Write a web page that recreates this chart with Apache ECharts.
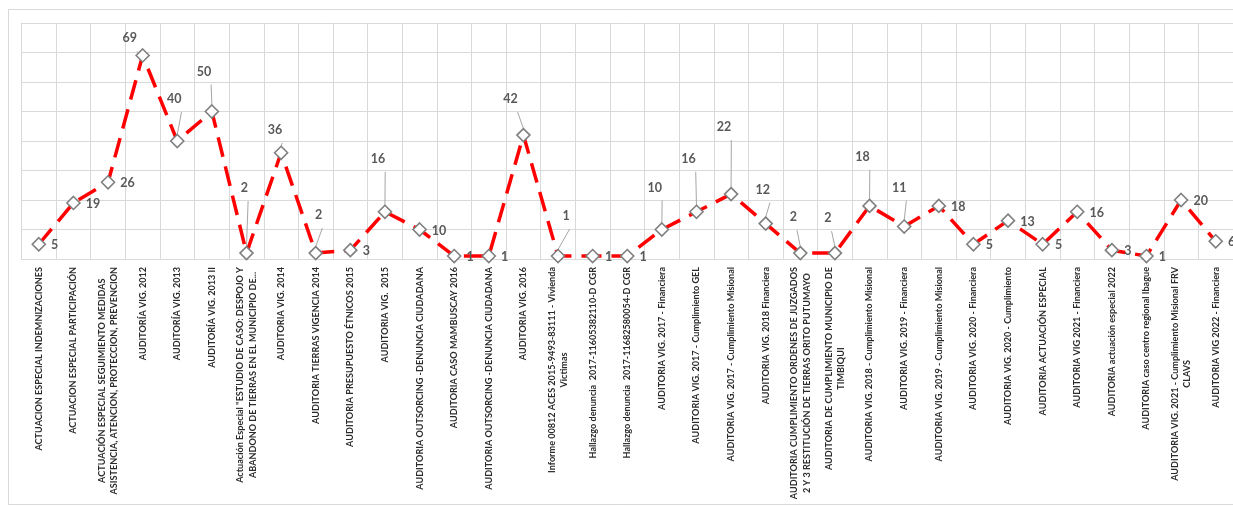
<!DOCTYPE html>
<html>
<head>
<meta charset="utf-8">
<script src="https://cdn.jsdelivr.net/npm/echarts@6/dist/echarts.min.js"></script>
<style>
  html, body { margin: 0; padding: 0; background: #ffffff; }
  #chart { width: 1233px; height: 506px; }
</style>
</head>
<body>
<div id="chart"></div>
<script>
const categories = [
  'ACTUACION ESPECIAL INDEMNIZACIONES',
  'ACTUACION ESPECIAL PARTICIPACIÓN',
  'ACTUACIÓN ESPECIAL SEGUIMIENTO MEDIDAS\nASISTENCIA, ATENCION, PROTECCION, PREVENCION',
  'AUDITORÍA VIG. 2012',
  'AUDITORÍA VIG. 2013',
  'AUDITORÍA VIG. 2013 II',
  'Actuación Especial "ESTUDIO DE CASO: DESPOJO Y\nABANDONO DE TIERRAS EN EL MUNICIPIO DE...',
  'AUDITORIA VIG. 2014',
  'AUDITORIA TIERRAS VIGENCIA 2014',
  'AUDITORIA PRESUPUESTO ÉTNICOS 2015',
  'AUDITORIA VIG.  2015',
  'AUDITORIA OUTSORCING -DENUNCIA CIUDADANA',
  'AUDITORIA CASO MAMBUSCAY 2016',
  'AUDITORIA OUTSORCING -DENUNCIA CIUDADANA',
  'AUDITORIA VIG. 2016',
  'Informe 00812 ACES 2015-9493-83111 - Vivienda\nVictimas',
  'Hallazgo denuncia  2017-11605382110-D CGR',
  'Hallazgo denuncia  2017-11682580054-D CGR',
  'AUDITORIA VIG. 2017 - Financiera',
  'AUDITORIA VIG. 2017 - Cumplimiento GEL',
  'AUDITORIA VIG. 2017 - Cumplimiento Misional',
  'AUDITORIA VIG. 2018 Financiera',
  'AUDITORIA CUMPLIMIENTO ORDENES DE JUZGADOS\n2 Y 3 RESTITUCIÓN DE TIERRAS ORITO PUTUMAYO',
  'AUDITORIA DE CUMPLIMIENTO MUNICIPIO DE\nTIMBIQUI',
  'AUDITORIA VIG. 2018 - Cumplimiento Misional',
  'AUDITORIA VIG. 2019 - Financiera',
  'AUDITORIA VIG. 2019 - Cumplimiento Misional',
  'AUDITORIA VIG. 2020 - Financiera',
  'AUDITORIA VIG. 2020 - Cumplimiento',
  'AUDITORIA ACTUACIÓN ESPECIAL',
  'AUDITORIA VIG 2021 - Financiera',
  'AUDITORIA actuación especial 2022',
  'AUDITORIA caso centro regional Ibague',
  'AUDITORIA VIG. 2021 - Cumplimiento Misional FRV\nCLAVS',
  'AUDITORIA VIG 2022 - Financiera'
];

const values = [5, 19, 26, 69, 40, 50, 2, 36, 2, 3, 16, 10, 1, 1, 42, 1, 1, 1, 10, 16, 22, 12, 2, 2, 18, 11, 18, 5, 13, 5, 16, 3, 1, 20, 6];

const yMin = 0;
const yMax = 80;
const yInterval = 10;

// Callout label offsets (label centre relative to marker); null = label to the right
const calloutOffsets = [
  null, null, null, [-13, -17], [-3, -42], [-8, -40], [-2, -65], [-6, -23], [3, -38], null,
  [-7, -53], null, null, null, [-13, -36], [8, -40], null, null, [-7, -42], [-8, -53],
  [-7, -67], [-3, -34], [-7, -36], [-7, -35], [-7, -49], [-5, -39], null, null, null, null,
  null, null, null, null, null
];

const chart = echarts.init(document.getElementById('chart'));

const dataItems = values.map((v, i) => {
  const off = calloutOffsets[i];
  if (off) {
    return {
      value: v,
      label: { position: 'inside', offset: off },
      labelLine: { show: true }
    };
  }
  return { value: v };
});

chart.setOption({
  animation: false,
  backgroundColor: '#ffffff',
  graphic: [{
    type: 'rect',
    shape: { x: 8.5, y: 9.5, width: 1400, height: 495 },
    style: { fill: 'none', stroke: '#d9d9d9', lineWidth: 1 },
    z: 0
  }],
  grid: { left: 21.5, right: 0, top: 23, bottom: 247, containLabel: false, outerBoundsMode: 'none' },
  xAxis: {
    type: 'category',
    data: categories,
    boundaryGap: true,
    axisLine: { show: true, lineStyle: { color: '#d9d9d9', width: 1 } },
    axisTick: { show: false },
    splitLine: { show: true, lineStyle: { color: '#d9d9d9', width: 1 } },
    axisLabel: {
      interval: 0,
      rotate: 90,
      margin: 8,
      hideOverlap: false,
      formatter: (v) => v.split('\n').map(s => '{c|' + s + '}').join('\n'),
      rich: {
        c: {
          align: 'center',
          fontFamily: 'Lato, "Open Sans", sans-serif',
          fontWeight: 'bold',
          fontSize: 9.1,
          lineHeight: 12.5,
          color: '#2b2b2b'
        }
      }
    }
  },
  yAxis: {
    type: 'value',
    min: yMin,
    max: yMax,
    interval: yInterval,
    axisLabel: { show: false },
    axisLine: { show: true, lineStyle: { color: '#d9d9d9' } },
    axisTick: { show: false },
    splitLine: { show: true, lineStyle: { color: '#d9d9d9', width: 1 } }
  },
  series: [{
    type: 'line',
    data: dataItems,
    symbol: 'diamond',
    symbolSize: 13,
    itemStyle: { color: '#ffffff', borderColor: '#7f7f7f', borderWidth: 1.6 },
    lineStyle: { color: '#ff0000', width: 3.5, type: [20, 10] },
    label: {
      show: true,
      position: 'right',
      distance: 5,
      offset: [0, 1],
      fontFamily: 'Lato, "Open Sans", sans-serif',
      fontWeight: 'bold',
      fontSize: 12.5,
      color: '#595959'
    },
    labelLine: {
      show: false,
      length2: 0,
      lineStyle: { color: '#a6a6a6', width: 1 }
    },
    z: 3
  }]
});
</script>
</body>
</html>
